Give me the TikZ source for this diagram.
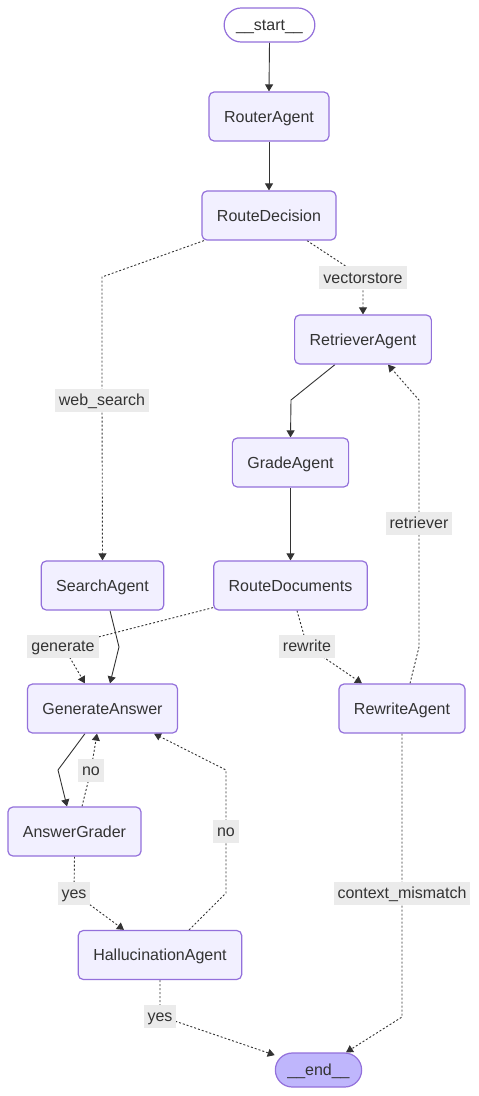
\documentclass[tikz,border=0pt]{standalone}
\usepackage{fontspec}
\setmainfont{Liberation Sans}
\usetikzlibrary{arrows.meta,calc}
\pgfdeclarelayer{edges}
\pgfdeclarelayer{canvas}
\pgfsetlayers{canvas,edges,main}
\definecolor{nodefill}{HTML}{F2F0FF}
\definecolor{nodestroke}{HTML}{9370DB}
\definecolor{endfill}{HTML}{BFB6FC}
\definecolor{txt}{HTML}{333333}
\definecolor{lblbg}{HTML}{EBEBEB}
\definecolor{edgecol}{HTML}{333333}
\begin{document}
\begin{tikzpicture}[x=1pt,y=-1pt,
  font=\fontsize{16}{19}\selectfont,
  agent/.style={draw=nodestroke, fill=nodefill, line width=1.2pt, rounded corners=5pt, minimum height=49pt, inner xsep=15pt, inner ysep=0pt, text height=12.5pt, text depth=1pt, text=txt},
  terminal/.style={draw=nodestroke, line width=1.2pt, rounded corners=17pt, minimum height=34pt, inner xsep=12pt, inner ysep=0pt, text height=12.5pt, text depth=1pt, text=txt},
  lbl/.style={fill=lblbg, text=txt, inner xsep=4pt, inner ysep=0pt, minimum height=23pt, text height=12.5pt, text depth=1pt},
  solidedge/.style={draw=edgecol, line width=0.9pt, -{Triangle[length=7pt,width=8pt]}},
  dashedge/.style={solidedge, dash pattern=on 2pt off 2pt},
]
\useasboundingbox (0,0) rectangle (479,1096);
\begin{pgfonlayer}{canvas}
\fill[white] (0,0) rectangle (479,1096);
\end{pgfonlayer}

% nodes
\node[terminal, fill=white] (start) at (269.5,25) {\_\_start\_\_};
\node[agent] (router) at (269,116.5) {RouterAgent};
\node[agent] (rd) at (269,215.5) {RouteDecision};
\node[agent] (ret) at (363,339.5) {RetrieverAgent};
\node[agent] (grade) at (290.5,462.5) {GradeAgent};
\node[agent] (search) at (102.5,585.5) {SearchAgent};
\node[agent] (rdoc) at (290.5,585.5) {RouteDocuments};
\node[agent] (gen) at (102.5,708.5) {GenerateAnswer};
\node[agent] (rw) at (402,708.5) {RewriteAgent};
\node[agent] (ag) at (74.5,831.5) {AnswerGrader};
\node[agent] (hal) at (160,955) {HallucinationAgent};
\node[terminal, fill=endfill] (end) at (318.5,1070) {\_\_end\_\_};

% edge labels
\node[lbl] (lvec) at (363,277.5) {vectorstore};
\node[lbl] (lweb) at (102,400) {web\_search};
\node[lbl] (lret) at (419,523) {retriever};
\node[lbl] (lgen) at (63,646) {generate};
\node[lbl] (lrw) at (307,646) {rewrite};
\node[lbl] (lno1) at (91,770) {no};
\node[lbl] (lno2) at (226,831) {no};
\node[lbl] (lyes1) at (74,893) {yes};
\node[lbl] (lcm) at (402,893) {context\_mismatch};
\node[lbl] (lyes2) at (160,1016) {yes};

% bend points
\coordinate (b4) at (102,277);
\coordinate (b5) at (291,400);
\coordinate (b8) at (119,647);
\coordinate (b10a) at (419,647);
\coordinate (b10b) at (419,400);
\coordinate (b11) at (58,770);
\coordinate (b14a) at (226,893);
\coordinate (b14b) at (226,770);
\coordinate (b15) at (402,1017);

\begin{pgfonlayer}{edges}
\draw[solidedge] (start.south) -- (router.north);
\draw[solidedge] (router.south) -- (rd.north);
\draw[dashedge] ([xshift=38pt]rd.south) -- (lvec.center) -- (ret.north);
\draw[dashedge] ([xshift=-65pt]rd.south) -- (b4) -- (lweb.center) -- (search.north);
\draw[solidedge] ([xshift=-28pt]ret.south) -- (b5) -- (grade.north);
\draw[solidedge] (grade.south) -- (rdoc.north);
\draw[dashedge] ([yshift=3pt]rdoc.south west) -- (lgen.center) -- ([xshift=-17.5pt]gen.north);
\draw[solidedge] ([xshift=7.5pt]search.south) -- (b8) -- ([xshift=7.5pt]gen.north);
\draw[dashedge] ([xshift=6.5pt]rdoc.south) -- (lrw.center) -- ([xshift=-40pt]rw.north);
\draw[dashedge] ([xshift=8pt]rw.north) -- (b10a) -- (lret.center) -- (b10b) -- ([xshift=25pt]ret.south);
\draw[solidedge] ([xshift=-17.5pt]gen.south) -- (b11) -- ([xshift=-7.5pt]ag.north);
\draw[dashedge] ([xshift=7.5pt]ag.north) -- (lno1.center) -- ([xshift=-5.5pt]gen.south);
\draw[dashedge] (ag.south) -- (lyes1.center) -- ([xshift=-36pt]hal.north);
\draw[dashedge] ([xshift=29pt]hal.north) -- (b14a) -- (lno2.center) -- (b14b) -- ([xshift=51.5pt]gen.south);
\draw[dashedge] (rw.south) -- (lcm.center) -- (b15) -- ([xshift=27.5pt]end.north);
\draw[dashedge] (hal.south) -- (lyes2.center) -- (end);
\end{pgfonlayer}
\end{tikzpicture}
\end{document}
